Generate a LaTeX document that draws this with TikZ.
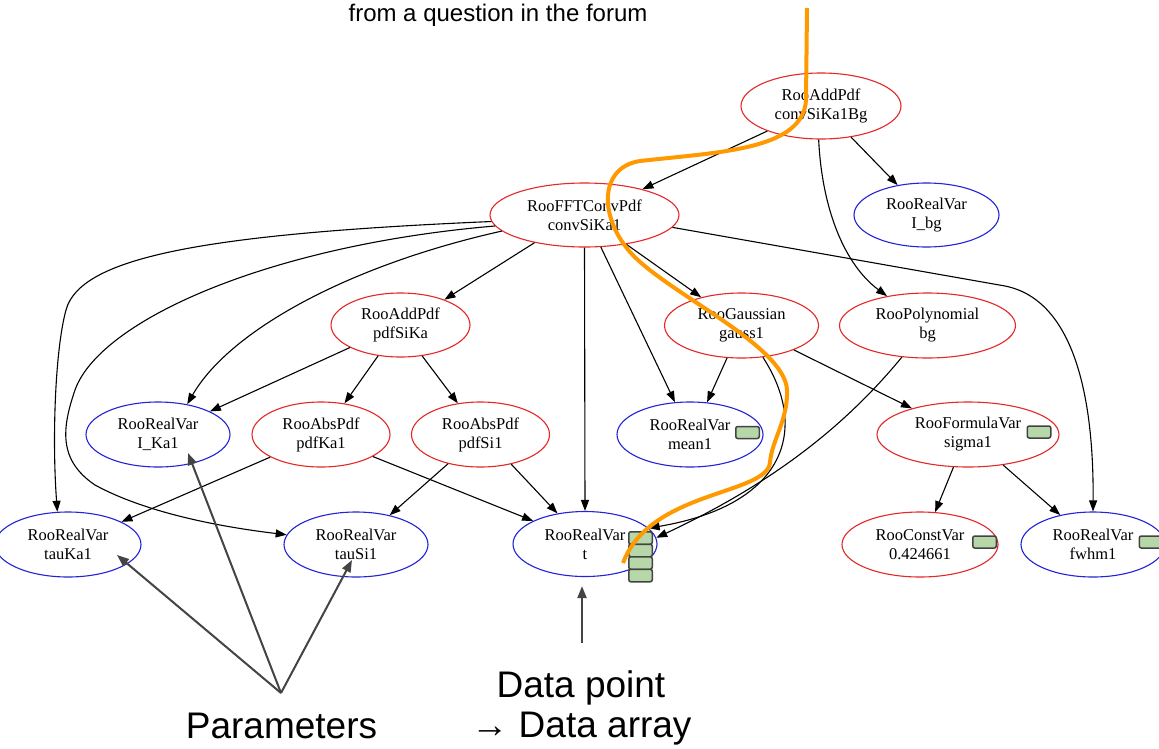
\documentclass[tikz,border=0pt]{standalone}
\usepackage{fontspec}
\setmainfont{Liberation Serif}
\newfontfamily\annfont{Liberation Sans}
\usetikzlibrary{arrows.meta,shapes.geometric}
\definecolor{gvred}{RGB}{228,40,40}
\definecolor{gvblue}{RGB}{35,35,215}
\definecolor{boxgreen}{RGB}{182,215,168}
\definecolor{boxedge}{RGB}{67,67,67}
\definecolor{anngray}{RGB}{68,68,68}
\definecolor{orng}{RGB}{255,153,0}
\begin{document}
\begin{tikzpicture}[x=1pt,y=-1pt,
  gv/.style={ellipse, line width=1.1pt, inner sep=0pt, align=center,
    font=\fontsize{16.5}{19}\selectfont},
  pdfnode/.style={gv, draw=gvred},
  varnode/.style={gv, draw=gvblue},
  edge/.style={line width=1.1pt, -{Triangle[length=11pt,width=8pt]}},
  annarrow/.style={draw=anngray, line width=2pt, -{Triangle[length=12pt,width=9pt]}},
  cachebox/.style={draw=boxedge, fill=boxgreen, line width=1.5pt, rounded corners=2pt,
    minimum width=23.5pt, minimum height=12pt, inner sep=0pt},
  anntext/.style={font=\annfont\fontsize{37}{44}\selectfont, anchor=base, inner sep=0pt}
]
\fill[white] (0,0) rectangle (1159,748);
\useasboundingbox (0,0) rectangle (1159,748);

% title
\node[font=\annfont\fontsize{24}{29}\selectfont, anchor=base, inner sep=0pt] (title) at (498,21) {from a question in the forum};

% nodes
\node[pdfnode, minimum width=160pt, minimum height=66pt] (A) at (821,106) {RooAddPdf\\convSiKa1Bg};
\node[pdfnode, minimum width=189pt, minimum height=64pt] (B) at (584.5,215) {RooFFTConvPdf\\convSiKa1};
\node[varnode, minimum width=145pt, minimum height=64pt] (Ibg) at (926.5,215) {RooRealVar\\I\_bg};
\node[pdfnode, minimum width=139pt, minimum height=64pt] (pdfSiKa) at (400.5,325) {RooAddPdf\\pdfSiKa};
\node[pdfnode, minimum width=154pt, minimum height=65pt] (gauss1) at (741.5,325.5) {RooGaussian\\gauss1};
\node[pdfnode, minimum width=176pt, minimum height=65pt] (bg) at (927.5,325.5) {RooPolynomial\\bg};
\node[varnode, minimum width=144pt, minimum height=65pt] (IKa1) at (158,434.5) {RooRealVar\\I\_Ka1};
\node[pdfnode, minimum width=138pt, minimum height=65pt] (pdfKa1) at (321,434.5) {RooAbsPdf\\pdfKa1};
\node[pdfnode, minimum width=138pt, minimum height=65pt] (pdfSi1) at (480.5,434.5) {RooAbsPdf\\pdfSi1};
\node[varnode, minimum width=146pt, minimum height=65pt] (mean1) at (690,434.5) {RooRealVar\\mean1};
\node[pdfnode, minimum width=182pt, minimum height=65pt] (sigma1) at (968,434.5) {RooFormulaVar\\sigma1};
\node[varnode, minimum width=146pt, minimum height=65pt] (tauKa1) at (68,544.5) {RooRealVar\\tauKa1};
\node[varnode, minimum width=144pt, minimum height=65pt] (tauSi1) at (356,544.5) {RooRealVar\\tauSi1};
\node[varnode, minimum width=144pt, minimum height=65pt] (t) at (585,544) {RooRealVar\\t};
\node[pdfnode, minimum width=156pt, minimum height=65pt] (const) at (920,544.5) {RooConstVar\\0.424661};
\node[varnode, minimum width=144pt, minimum height=65pt] (fwhm1) at (1093,544.5) {RooRealVar\\fwhm1};

% edges
\draw[edge] (A.205) -- (B.24);
\draw[edge] (A.314) -- (Ibg.134);
\draw[edge] (A.266) .. controls (822,210) and (845,265) .. (bg.144);
\draw[edge] (B.184) .. controls (200,234) and (80,258) .. (66,310)
  .. controls (55,350) and (52,440) .. (tauKa1.108);
\draw[edge] (B.187) .. controls (270,245) and (100,320) .. (75,390)
  .. controls (62,428) and (58,460) .. (95,485)
  .. controls (150,515) and (230,528) .. (tauSi1.172);
\draw[edge] (B.191) .. controls (350,265) and (230,330) .. (IKa1.46);
\draw[edge] (B.209) -- (pdfSiKa.30);
\draw[edge] (B.south) -- (t.north);
\draw[edge] (B.297) -- (mean1.115);
\draw[edge] (B.325) -- (gauss1.145);
\draw[edge] (B.352) -- (1005,286) .. controls (1075,300) and (1094,400) .. (fwhm1.north);
\draw[edge] (pdfSiKa.204) -- (IKa1.24);
\draw[edge] (pdfSiKa.234) -- (pdfKa1.53);
\draw[edge] (pdfSiKa.305) -- (pdfSi1.126);
\draw[edge] (pdfKa1.204) -- (tauKa1.23);
\draw[edge] (pdfKa1.337) -- (t.156);
\draw[edge] (pdfSi1.222) -- (tauSi1.41);
\draw[edge] (pdfSi1.316) -- (t.132);
\draw[edge] (gauss1.246) -- (mean1.62);
\draw[edge] (gauss1.335) -- (sigma1.155);
\draw[edge] (gauss1.304) .. controls (810,430) and (785,505) .. (t.14);
\draw[edge] (bg.231) .. controls (850,420) and (780,480) .. (t.5);
\draw[edge] (sigma1.246) -- (const.65);
\draw[edge] (sigma1.319) -- (fwhm1.138);

% cache boxes
\node[cachebox] (mean1c) at (747.5,432.5) {};
\node[cachebox] (sigma1c) at (1039,432) {};
\node[cachebox] (constc) at (984.5,542) {};
\node[cachebox] (fwhm1c) at (1151,542) {};
\node[cachebox, minimum height=12.5pt] (tc1) at (640.5,538) {};
\node[cachebox, minimum height=12.5pt] (tc2) at (640.5,550.5) {};
\node[cachebox, minimum height=12.5pt] (tc3) at (640.5,563) {};
\node[cachebox, minimum height=12.5pt] (tc4) at (640.5,575.5) {};

% annotations
\node[anntext] (params) at (281.5,738) {Parameters};
\node[anntext] (dp1) at (581,697) {Data point};
\node[anntext] (dp2) at (581.5,737) {→ Data array};
\coordinate (papex) at (281,693);
\coordinate (pTauKa1) at ([shift={(49,10.5)}]tauKa1.center);
\coordinate (pIKa1) at ([shift={(30,18.5)}]IKa1.center);
\coordinate (pTauSi1) at ([shift={(-4,15.5)}]tauSi1.center);
\draw[annarrow] (papex) -- (pTauKa1);
\draw[annarrow] (papex) -- (pIKa1);
\draw[annarrow] (papex) -- (pTauSi1);
\coordinate (dstart) at (582,643);
\coordinate (dtip) at ([shift={(-3,9)}]t.south);
\draw[annarrow] (dstart) -- (dtip);

% orange cut line
\draw[orng, line width=4pt] (807,8) -- (806,100)
  .. controls (803,150) and (720,152) .. (640,161)
  .. controls (600,167) and (598,215) .. (630,252)
  .. controls (665,292) and (785,345) .. (787,390)
  .. controls (788,420) and (772,440) .. (770,462)
  .. controls (768,495) and (650,490) .. (623,563);
\end{tikzpicture}
\end{document}
